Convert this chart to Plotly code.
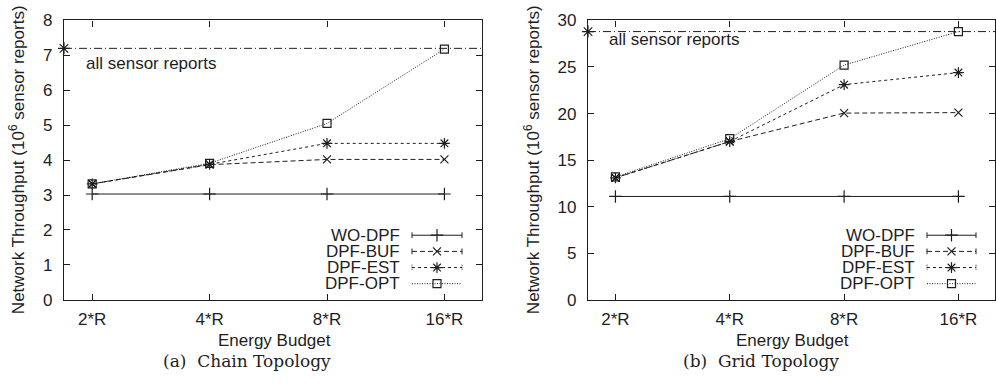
import plotly.graph_objects as go

W, H = 996, 384

CATEGORIES = ["2*R", "4*R", "8*R", "16*R"]
SERIES = ["WO-DPF", "DPF-BUF", "DPF-EST", "DPF-OPT"]

CHAIN_WO = [3.03, 3.03, 3.03, 3.03]
CHAIN_BUF = [3.32, 3.87, 4.02, 4.02]
CHAIN_EST = [3.32, 3.88, 4.48, 4.48]
CHAIN_OPT = [3.32, 3.91, 5.05, 7.18]
CHAIN_ALL = 7.2
CHAIN_YTICKS = [0, 1, 2, 3, 4, 5, 6, 7, 8]

GRID_WO = [11.1, 11.1, 11.1, 11.1]
GRID_BUF = [13.1, 17.0, 20.05, 20.1]
GRID_EST = [13.1, 17.0, 23.1, 24.4]
GRID_OPT = [13.2, 17.3, 25.2, 28.8]
GRID_ALL = 28.8
GRID_YTICKS = [0, 5, 10, 15, 20, 25, 30]

REF_LABEL = "all sensor reports"
X_TITLE = "Energy Budget"
Y_TITLE = "Network Throughput (10<sup>6</sup> sensor reports)"
CAPTIONS = ["(a)  Chain Topology", "(b)  Grid Topology"]

INK = "#1e1e1e"
SANS = "Liberation Sans, Arial, sans-serif"
SERIF = "DejaVu Serif, serif"
FS = 17

STYLES = {
    "WO-DPF": dict(symbol="cross-thin", size=9, dash="solid"),
    "DPF-BUF": dict(symbol="x-thin", size=8, dash="5px,3px"),
    "DPF-EST": dict(symbol="asterisk-open", size=9, dash="3px,3px"),
    "DPF-OPT": dict(symbol="square-open", size=8, dash="1px,1.5px"),
}
REF_DASH = "8px,3px,1px,3px"

X_IDX = list(range(len(CATEGORIES)))
X_RANGE = [-0.24, 3.32]

fig = go.Figure()


def px(x):
    return x / W


def py(y):
    return 1 - y / H


def mk(symbol, size):
    return dict(symbol=symbol, size=size, color=INK, line=dict(color=INK, width=1.2))


panels = [
    dict(xa="x", ya="y", data=[CHAIN_WO, CHAIN_BUF, CHAIN_EST, CHAIN_OPT], ref=CHAIN_ALL,
         yticks=CHAIN_YTICKS, yr=[0, 8], box=(64, 482), text_right=402, line=(412, 462),
         ref_label=(84, 57), ytitle_x=17, xtitle_x=274, caption_x=247),
    dict(xa="x2", ya="y2", data=[GRID_WO, GRID_BUF, GRID_EST, GRID_OPT], ref=GRID_ALL,
         yticks=GRID_YTICKS, yr=[0, 30], box=(588, 995), text_right=917, line=(927, 976),
         ref_label=(607, 32), ytitle_x=532, xtitle_x=792, caption_x=761),
]

LEG_ROWS = [238, 255, 272, 289]
BOX_TOP, BOX_BOT = 12, 306

annotations = []
shapes = []

for i, p in enumerate(panels):
    fig.add_trace(go.Scatter(x=X_RANGE, y=[p["ref"], p["ref"]], xaxis=p["xa"], yaxis=p["ya"],
                             mode="lines", line=dict(color=INK, width=1, dash=REF_DASH),
                             showlegend=False, hoverinfo="skip"))
    fig.add_trace(go.Scatter(x=[X_RANGE[0]], y=[p["ref"]], xaxis=p["xa"], yaxis=p["ya"],
                             mode="markers", cliponaxis=False,
                             marker=mk("asterisk-open", 10),
                             showlegend=False, hoverinfo="skip"))
    for name, vals in zip(SERIES, p["data"]):
        st = STYLES[name]
        fig.add_trace(go.Scatter(x=X_IDX, y=vals, xaxis=p["xa"], yaxis=p["ya"], name=name,
                                 mode="lines+markers", cliponaxis=False,
                                 line=dict(color=INK, width=1, dash=st["dash"]),
                                 marker=mk(st["symbol"], st["size"]),
                                 showlegend=False))
    # manual gnuplot-style key (text on the left, sample on the right)
    for name, ry in zip(SERIES, LEG_ROWS):
        st = STYLES[name]
        annotations.append(dict(x=px(p["text_right"]), y=py(ry), xref="paper", yref="paper",
                                text=name, showarrow=False, xanchor="right", yanchor="middle",
                                font=dict(family=SANS, size=FS, color=INK)))
        x0, x1 = p["line"]
        shapes.append(dict(type="line", xref="paper", yref="paper", x0=px(x0), x1=px(x1),
                           y0=py(ry), y1=py(ry), line=dict(color=INK, width=1, dash=st["dash"])))
        if name != "DPF-OPT":
            for xc in (x0, x1):
                shapes.append(dict(type="line", xref="paper", yref="paper", x0=px(xc), x1=px(xc),
                                   y0=py(ry - 3), y1=py(ry + 3),
                                   line=dict(color=INK, width=1,
                                             dash="solid" if name != "DPF-EST" else "1px,1px")))
        fig.add_trace(go.Scatter(x=[px((x0 + x1) / 2)], y=[py(ry)], xaxis="x3", yaxis="y3",
                                 mode="markers", cliponaxis=False,
                                 marker=mk(st["symbol"], st["size"]),
                                 showlegend=False, hoverinfo="skip"))
    annotations.append(dict(x=px(p["ref_label"][0]), y=py(p["ref_label"][1]), xref="paper",
                            yref="paper", text=REF_LABEL, showarrow=False, xanchor="left",
                            yanchor="middle", font=dict(family=SANS, size=FS, color=INK)))
    annotations.append(dict(x=px(p["ytitle_x"]), y=py((BOX_TOP + BOX_BOT) / 2), xref="paper",
                            yref="paper", text=Y_TITLE, showarrow=False, textangle=-90,
                            xanchor="center", yanchor="middle",
                            font=dict(family=SANS, size=FS, color=INK)))
    annotations.append(dict(x=px(p["xtitle_x"]), y=py(349), xref="paper", yref="paper",
                            text=X_TITLE, showarrow=False, xanchor="center", yanchor="middle",
                            font=dict(family=SANS, size=FS, color=INK)))
    annotations.append(dict(x=px(p["caption_x"]), y=py(370), xref="paper", yref="paper",
                            text=CAPTIONS[i], showarrow=False, xanchor="center", yanchor="middle",
                            font=dict(family=SERIF, size=17, color=INK)))

axis_common = dict(showline=True, linecolor=INK, linewidth=1.3, mirror="allticks",
                   ticks="inside", ticklen=6, tickwidth=1, tickcolor=INK, showgrid=False,
                   zeroline=False, tickfont=dict(family=SANS, size=FS, color=INK))

layout = dict(width=W, height=H, margin=dict(l=0, r=0, t=0, b=0),
              paper_bgcolor="white", plot_bgcolor="rgba(0,0,0,0)", showlegend=False,
              annotations=annotations, shapes=shapes,
              xaxis3=dict(domain=[0, 1], range=[0, 1], visible=False, anchor="y3",
                          fixedrange=True),
              yaxis3=dict(domain=[0, 1], range=[0, 1], visible=False, anchor="x3",
                          fixedrange=True))
for i, p in enumerate(panels):
    sx = "" if i == 0 else "2"
    layout["xaxis" + sx] = dict(axis_common, domain=[px(p["box"][0]), px(p["box"][1])],
                                range=X_RANGE, tickvals=X_IDX, ticktext=CATEGORIES,
                                anchor="y" + sx, ticklabelstandoff=4)
    layout["yaxis" + sx] = dict(axis_common, domain=[py(BOX_BOT), py(BOX_TOP)], range=p["yr"],
                                tickvals=p["yticks"], anchor="x" + sx, ticklabelstandoff=7)

fig.update_layout(**layout)
fig.write_html("out.html")
